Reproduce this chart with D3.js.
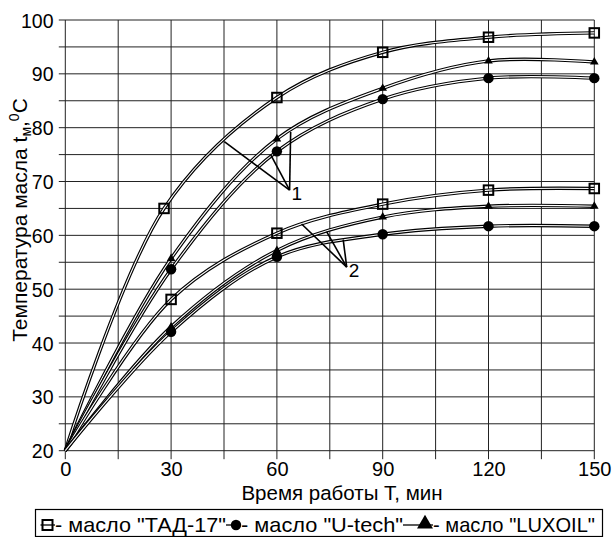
<!DOCTYPE html>
<html><head><meta charset="utf-8">
<script src="https://cdn.jsdelivr.net/npm/d3@7"></script>
<style>
html,body{margin:0;padding:0;background:#fff;}
svg{display:block;}
text{font-family:"Liberation Sans",Arial,sans-serif;fill:#000;}
</style></head>
<body>
<svg id="c" width="612" height="537"></svg>
<script>
// ---- data ----
const times = [0, 30, 60, 90, 120, 150];
const timesTad1 = [0, 28, 60, 90, 120, 150];
const tad1 = [20, 65.0, 85.6, 94.0, 96.8, 97.6];
const lux1 = [20, 55.7, 77.9, 87.3, 92.4, 92.2];
const ute1 = [20, 53.7, 75.6, 85.3, 89.2, 89.2];
const tad2 = [20, 48.1, 60.4, 65.8, 68.4, 68.7];
const lux2 = [20, 43.0, 57.2, 63.4, 65.4, 65.4];
const ute2 = [20, 42.1, 56.0, 60.2, 61.7, 61.7];
const xTicks = [0, 30, 60, 90, 120, 150];
const yTicks = [20, 30, 40, 50, 60, 70, 80, 90, 100];
const legendLabels = ['- масло "ТАД-17"', '- масло "U-tech"', '- масло "LUXOIL"'];
// annotation leader lines (data coords): apex + ends
const ann1 = {apex: [63.6, 68.4], ends: [[45.1, 77.4], [58.3, 74.9], [63.9, 79.2]], label: "1"};
const ann2 = {apex: [79.8, 54.1], ends: [[67.0, 62.1], [74.1, 60.7], [78.8, 59.2]], label: "2"};

const svg = d3.select("#c");
const x = d3.scaleLinear().domain([0, 150]).range([65.3, 594.3]);
const y = d3.scaleLinear().domain([20, 100]).range([450.7, 20]);

// grid
const g = svg.append("g");
d3.range(0, 151, 15).forEach(v => {
  g.append("line").attr("x1", x(v)).attr("x2", x(v)).attr("y1", y(100)).attr("y2", y(20) + 8.5)
   .attr("stroke", "#222").attr("stroke-width", 1);
});
d3.range(20, 101, 5).forEach(v => {
  g.append("line").attr("x1", x(0) - 6.5).attr("x2", x(150)).attr("y1", y(v)).attr("y2", y(v))
   .attr("stroke", "#222").attr("stroke-width", 1);
});

// axes labels
const xa = d3.axisBottom(x).tickValues(xTicks).tickSize(0).tickPadding(0);
const xg = svg.append("g").attr("transform", `translate(0,${y(20)})`).call(xa);
xg.select(".domain").remove();
xg.selectAll("text").attr("font-size", 20).attr("dy", null).attr("y", 25.5)
  .style("font-family", '"Liberation Sans",Arial,sans-serif').attr("fill", "#000");

const ya = d3.axisLeft(y).tickValues(yTicks).tickSize(0).tickPadding(0);
const yg = svg.append("g").attr("transform", `translate(53.5,0)`).call(ya);
yg.select(".domain").remove();
yg.selectAll("text").attr("font-size", 19.5).attr("dy", "0.36em").attr("x", 0)
  .style("font-family", '"Liberation Sans",Arial,sans-serif').attr("fill", "#000");

// titles
svg.append("text").attr("x", 342).attr("y", 500).attr("text-anchor", "middle")
  .attr("font-size", 20.5).text("Время работы T, мин");
const yt = svg.append("text").attr("transform", "translate(27,220) rotate(-90)")
  .attr("text-anchor", "middle").attr("font-size", 21);
yt.append("tspan").text("Температура масла t");
yt.append("tspan").attr("font-size", 14).attr("dy", 4).text("м");
yt.append("tspan").attr("dy", -4).text(",");
yt.append("tspan").attr("font-size", 14).attr("dy", -8).text("0");
yt.append("tspan").attr("dy", 8).text("C");

// series
const series = [
  {xs: timesTad1, ys: tad1, m: "square"},
  {xs: times, ys: lux1, m: "triangle"},
  {xs: times, ys: ute1, m: "circle"},
  {xs: times, ys: tad2, m: "square"},
  {xs: times, ys: lux2, m: "triangle"},
  {xs: times, ys: ute2, m: "circle"}
];
const line = d3.line().x(d => x(d[0])).y(d => y(d[1])).curve(d3.curveCatmullRom.alpha(0.5));
series.forEach(s => {
  const pts = s.xs.map((t, i) => [t, s.ys[i]]);
  svg.append("path").attr("d", line(pts)).attr("fill", "none").attr("stroke", "#000").attr("stroke-width", 3.4);
  svg.append("path").attr("d", line(pts)).attr("fill", "none").attr("stroke", "#fff").attr("stroke-width", 1.1);
});
function marker(sel, type, cx, cy, big) {
  if (type === "square") {
    const s = big ? 10 : 9.5;
    sel.append("rect").attr("x", cx - s / 2).attr("y", cy - s / 2).attr("width", s).attr("height", s)
      .attr("fill", "none").attr("stroke", "#000").attr("stroke-width", 2);
  } else if (type === "circle") {
    sel.append("circle").attr("cx", cx).attr("cy", cy).attr("r", 5.2).attr("fill", "#000");
  } else {
    sel.append("path").attr("d", d3.symbol(d3.symbolTriangle, big ? 110 : 32)())
      .attr("transform", `translate(${cx},${cy})`).attr("fill", "#000");
  }
}
series.forEach(s => {
  s.xs.forEach((t, i) => { if (i > 0) marker(svg, s.m, x(t), y(s.ys[i]), false); });
});

// annotations
[ann1, ann2].forEach(a => {
  a.ends.forEach(e => {
    svg.append("line").attr("x1", x(a.apex[0])).attr("y1", y(a.apex[1]))
      .attr("x2", x(e[0])).attr("y2", y(e[1])).attr("stroke", "#000").attr("stroke-width", 1.6);
  });
  svg.append("text").attr("x", x(a.apex[0]) + 2).attr("y", y(a.apex[1]) + 10)
    .attr("font-size", 19).text(a.label);
});

// legend
svg.append("rect").attr("x", 35.5).attr("y", 509.5).attr("width", 567).attr("height", 27)
  .attr("fill", "none").attr("stroke", "#000").attr("stroke-width", 1.2);
const ly = 525, lty = 531.5;
const lg = svg.append("g");
const types = ["square", "circle", "triangle"];
let cx = 40.5;
const segLen = [14.5, 15, 30];
const mOff = [7, 10, 22];
const textW = [171, 162, 162];
types.forEach((t, i) => {
  lg.append("line").attr("x1", cx).attr("x2", cx + segLen[i]).attr("y1", ly).attr("y2", ly)
    .attr("stroke", "#000").attr("stroke-width", 1.3);
  marker(lg, t, cx + mOff[i], t === "triangle" ? ly - 1 : ly, true);
  lg.append("text").attr("x", cx + segLen[i]).attr("y", lty).attr("font-size", 21)
    .attr("textLength", textW[i]).attr("lengthAdjust", "spacingAndGlyphs").text(legendLabels[i]);
  cx = cx + segLen[i] + textW[i];
});
</script>
</body></html>
